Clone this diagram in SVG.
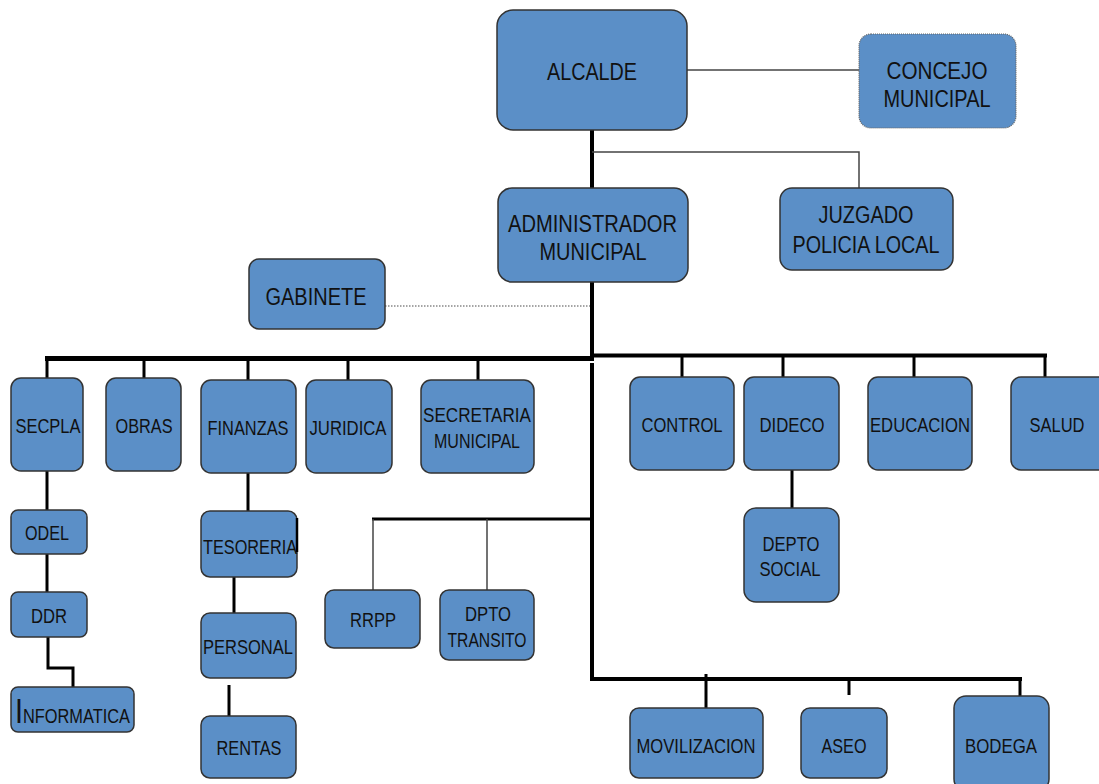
<svg xmlns="http://www.w3.org/2000/svg" width="1099" height="784" viewBox="0 0 1099 784">
<style>
.box{fill:#5b8fc7;stroke:#333;stroke-width:1.5}
.dot{fill:#5b8fc7;stroke:#666;stroke-width:1.2;stroke-dasharray:1 1}
.t{font-family:"Liberation Sans",Arial,sans-serif;fill:#111;text-anchor:middle}
.b{font-size:23px}
.s{font-size:20px}
.thick{stroke:#000;stroke-width:4;fill:none}
.mid{stroke:#000;stroke-width:3;fill:none}
.thin{stroke:#444;stroke-width:1.5;fill:none}
</style>
<rect width="1099" height="784" fill="#fff"/>
<g id="connectors">
<line class="thin" x1="687" y1="70" x2="859" y2="70"/>
<line class="thick" x1="592" y1="130" x2="592" y2="188"/>
<polyline class="thin" points="592,152 859,152 859,188"/>
<line x1="385" y1="306" x2="590" y2="306" stroke="#888" stroke-width="1.5" stroke-dasharray="1.5 1.5"/>
<line class="thick" x1="592" y1="282" x2="592" y2="360"/>
<line x1="45" y1="358.5" x2="594" y2="358.5" stroke="#000" stroke-width="5"/>
<line x1="592" y1="355.5" x2="1047" y2="355.5" stroke="#000" stroke-width="4"/>
<polyline class="mid" points="47,358 47,378"/>
<line class="mid" x1="144" y1="358" x2="144" y2="378"/>
<line class="mid" x1="248" y1="358" x2="248" y2="380"/>
<line class="mid" x1="348" y1="358" x2="348" y2="380"/>
<line class="mid" x1="478" y1="358" x2="478" y2="380"/>
<line class="mid" x1="682" y1="355" x2="682" y2="377"/>
<line class="mid" x1="783" y1="355" x2="783" y2="377"/>
<line class="mid" x1="914" y1="355" x2="914" y2="377"/>
<line class="mid" x1="1045" y1="355" x2="1045" y2="377"/>
<line class="thick" x1="592" y1="363" x2="592" y2="681"/>
<line class="thick" x1="590" y1="679" x2="1022" y2="679"/>
<line class="mid" x1="706" y1="674" x2="706" y2="708"/>
<line class="mid" x1="849" y1="679" x2="849" y2="695"/>
<line class="mid" x1="1020" y1="679" x2="1020" y2="696"/>
<line class="mid" x1="372" y1="519" x2="592" y2="519"/>
<line class="thin" x1="373" y1="519" x2="373" y2="590"/>
<line class="thin" x1="487" y1="519" x2="487" y2="590"/>
<line class="mid" x1="47" y1="471" x2="47" y2="510"/>
<line class="mid" x1="47" y1="554" x2="47" y2="592"/>
<polyline class="mid" points="48,637 48,668 73,668 73,687"/>
<line class="mid" x1="248" y1="473" x2="248" y2="511"/>
<line class="mid" x1="234" y1="577" x2="234" y2="613"/>
<line class="mid" x1="229" y1="685" x2="229" y2="716"/>
<line class="mid" x1="792" y1="470" x2="792" y2="508"/>
</g>
<g id="alcalde"><rect class="box" x="497" y="10" width="190" height="120" rx="16"/><text class="t b" x="592" y="80" textLength="90" lengthAdjust="spacingAndGlyphs">ALCALDE</text></g>
<g id="concejo"><rect class="dot" x="859" y="34" width="157" height="94" rx="12"/><text class="t b" x="937" y="79" textLength="101" lengthAdjust="spacingAndGlyphs">CONCEJO</text><text class="t b" x="937" y="107" textLength="107" lengthAdjust="spacingAndGlyphs">MUNICIPAL</text></g>
<g id="administrador"><rect class="box" x="498" y="188" width="190" height="94" rx="14"/><text class="t b" x="592.5" y="232" textLength="169" lengthAdjust="spacingAndGlyphs">ADMINISTRADOR</text><text class="t b" x="593" y="260" textLength="107" lengthAdjust="spacingAndGlyphs">MUNICIPAL</text></g>
<g id="juzgado"><rect class="box" x="780" y="188" width="173" height="82" rx="12"/><text class="t b" x="866" y="223" textLength="95" lengthAdjust="spacingAndGlyphs">JUZGADO</text><text class="t b" x="866" y="253" textLength="147" lengthAdjust="spacingAndGlyphs">POLICIA LOCAL</text></g>
<g id="gabinete"><rect class="box" x="249" y="259" width="136" height="70" rx="10"/><text class="t b" x="316" y="305" textLength="101" lengthAdjust="spacingAndGlyphs">GABINETE</text></g>
<g id="secpla"><rect class="box" x="11" y="378" width="72" height="93" rx="10"/><text class="t s" x="48" y="433" textLength="65" lengthAdjust="spacingAndGlyphs">SECPLA</text></g>
<g id="obras"><rect class="box" x="106" y="378" width="75" height="93" rx="10"/><text class="t s" x="144" y="433" textLength="57" lengthAdjust="spacingAndGlyphs">OBRAS</text></g>
<g id="finanzas"><rect class="box" x="201" y="380" width="95" height="93" rx="10"/><text class="t s" x="248" y="435" textLength="81" lengthAdjust="spacingAndGlyphs">FINANZAS</text></g>
<g id="juridica"><rect class="box" x="306" y="380" width="86" height="93" rx="10"/><text class="t s" x="348" y="435" textLength="77" lengthAdjust="spacingAndGlyphs">JURIDICA</text></g>
<g id="secretaria"><rect class="box" x="421" y="380" width="113" height="93" rx="10"/><text class="t s" x="477" y="422" textLength="108" lengthAdjust="spacingAndGlyphs">SECRETARIA</text><text class="t s" x="477" y="448" textLength="86" lengthAdjust="spacingAndGlyphs">MUNICIPAL</text></g>
<g id="control"><rect class="box" x="630" y="377" width="104" height="93" rx="10"/><text class="t s" x="682" y="432" textLength="81" lengthAdjust="spacingAndGlyphs">CONTROL</text></g>
<g id="dideco"><rect class="box" x="744" y="377" width="95" height="93" rx="10"/><text class="t s" x="792" y="432" textLength="65" lengthAdjust="spacingAndGlyphs">DIDECO</text></g>
<g id="educacion"><rect class="box" x="868" y="377" width="104" height="93" rx="10"/><text class="t s" x="920" y="432" textLength="100" lengthAdjust="spacingAndGlyphs">EDUCACION</text></g>
<g id="salud"><rect class="box" x="1011" y="377" width="100" height="93" rx="10"/><text class="t s" x="1057" y="432" textLength="55" lengthAdjust="spacingAndGlyphs">SALUD</text></g>
<g id="odel"><rect class="box" x="11" y="510" width="76" height="44" rx="7"/><text class="t s" x="47" y="540" textLength="44" lengthAdjust="spacingAndGlyphs">ODEL</text></g>
<g id="ddr"><rect class="box" x="11" y="592" width="76" height="45" rx="7"/><text class="t s" x="49" y="623" textLength="36" lengthAdjust="spacingAndGlyphs">DDR</text></g>
<g id="informatica"><rect class="box" x="11" y="687" width="123" height="45" rx="7"/><text class="t s" x="15" y="723" style="text-anchor:start" textLength="115" lengthAdjust="spacingAndGlyphs"><tspan font-size="35">I</tspan>NFORMATICA</text></g>
<g id="tesoreria"><rect class="box" x="201" y="511" width="96" height="66" rx="9"/><text class="t s" x="250" y="554" textLength="94" lengthAdjust="spacingAndGlyphs">TESORERIA</text><line x1="297" y1="518" x2="297" y2="552" stroke="#000" stroke-width="2.5"/></g>
<g id="personal"><rect class="box" x="201" y="613" width="95" height="65" rx="9"/><text class="t s" x="248" y="654" textLength="90" lengthAdjust="spacingAndGlyphs">PERSONAL</text></g>
<g id="rentas"><rect class="box" x="201" y="716" width="95" height="62" rx="9"/><text class="t s" x="249" y="755" textLength="65" lengthAdjust="spacingAndGlyphs">RENTAS</text></g>
<g id="rrpp"><rect class="box" x="325" y="590" width="95" height="58" rx="9"/><text class="t s" x="373" y="627" textLength="46" lengthAdjust="spacingAndGlyphs">RRPP</text></g>
<g id="transito"><rect class="box" x="440" y="590" width="94" height="70" rx="9"/><text class="t s" x="488" y="621" textLength="46" lengthAdjust="spacingAndGlyphs">DPTO</text><text class="t s" x="487" y="647" textLength="79" lengthAdjust="spacingAndGlyphs">TRANSITO</text></g>
<g id="depto-social"><rect class="box" x="744" y="508" width="95" height="94" rx="12"/><text class="t s" x="791" y="551" textLength="57" lengthAdjust="spacingAndGlyphs">DEPTO</text><text class="t s" x="790" y="576" textLength="61" lengthAdjust="spacingAndGlyphs">SOCIAL</text></g>
<g id="movilizacion"><rect class="box" x="630" y="708" width="133" height="70" rx="9"/><text class="t s" x="696" y="753" textLength="119" lengthAdjust="spacingAndGlyphs">MOVILIZACION</text></g>
<g id="aseo"><rect class="box" x="801" y="708" width="86" height="70" rx="9"/><text class="t s" x="844" y="753" textLength="45" lengthAdjust="spacingAndGlyphs">ASEO</text></g>
<g id="bodega"><rect class="box" x="954" y="696" width="95" height="95" rx="12"/><text class="t s" x="1001" y="753" textLength="72" lengthAdjust="spacingAndGlyphs">BODEGA</text></g>
</svg>
